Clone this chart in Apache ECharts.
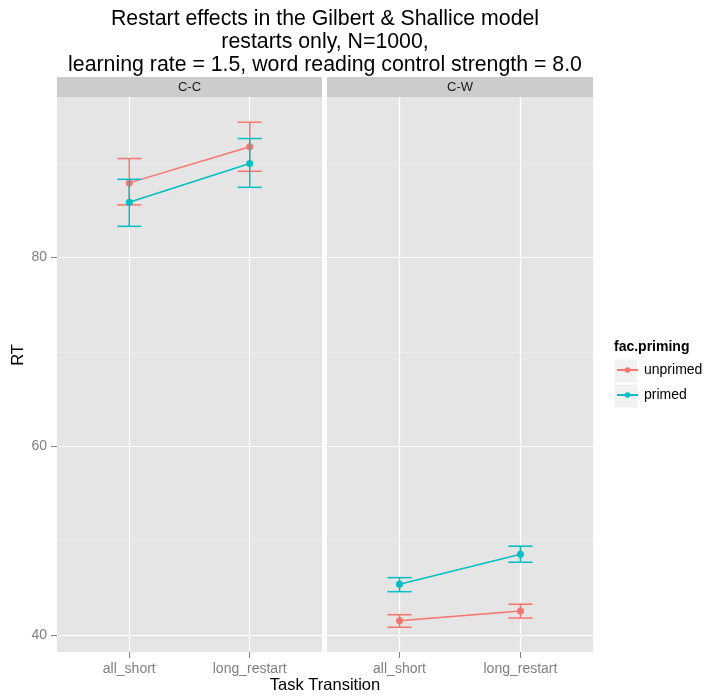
<!DOCTYPE html>
<html>
<head>
<meta charset="utf-8">
<script src="https://cdn.jsdelivr.net/npm/echarts@6/dist/echarts.min.js"></script>
<style>
  html, body { margin: 0; padding: 0; background: #ffffff; }
  #chart { width: 705px; height: 697px; }
</style>
</head>
<body>
<div id="chart"></div>
<script>
// Task transitions on the x axis, one panel per condition
const categories = ['all_short', 'long_restart'];
const facets = ['C-C', 'C-W'];
const primingLevels = ['unprimed', 'primed'];

// Mean RT and error-bar limits, per panel and priming level
const unprimedCC = [87.9, 91.72];
const unprimedCCLow = [85.57, 89.13];
const unprimedCCHigh = [90.48, 94.33];
const primedCC = [85.84, 89.95];
const primedCCLow = [83.30, 87.43];
const primedCCHigh = [88.28, 92.60];

const unprimedCW = [41.52, 42.55];
const unprimedCWLow = [40.82, 41.80];
const unprimedCWHigh = [42.15, 43.26];
const primedCW = [45.38, 48.56];
const primedCWLow = [44.59, 47.71];
const primedCWHigh = [46.08, 49.41];

// Axis ticks
const yMajorTicks = [40, 60, 80];
const yMinorTicks = [50, 70, 90];

const colors = { unprimed: '#F8766D', primed: '#00BFC4' };
const FONT = "'Liberation Sans', Arial, Helvetica, sans-serif";

const panelData = [
  { unprimed: [unprimedCC, unprimedCCLow, unprimedCCHigh], primed: [primedCC, primedCCLow, primedCCHigh] },
  { unprimed: [unprimedCW, unprimedCWLow, unprimedCWHigh], primed: [primedCW, primedCWLow, primedCWHigh] }
];

// Panel geometry
const panels = [
  { left: 57, width: 265 },
  { left: 327, width: 266 }
];
const panelTop = 97, panelHeight = 555;
const xPositions = categories.map((c, i) => i + 1);

const grids = panels.map(p => ({
  left: p.left, top: panelTop, width: p.width, height: panelHeight,
  show: true, backgroundColor: '#E5E5E5', borderWidth: 0, containLabel: false
}));

const xAxes = panels.map((p, i) => ({
  type: 'value', gridIndex: i, min: 0.4, max: 2.6,
  axisLine: { show: false },
  splitLine: { show: false },
  axisTick: { show: true, customValues: xPositions, length: 6, lineStyle: { color: '#7F7F7F', width: 1 } },
  axisLabel: {
    customValues: xPositions, color: '#7F7F7F', fontSize: 14, fontFamily: FONT, margin: 10,
    formatter: v => categories[Math.round(v) - 1] || ''
  }
}));

const yAxes = panels.map((p, i) => ({
  type: 'value', gridIndex: i, min: 38.2, max: 97.0,
  axisLine: { show: false },
  splitLine: { show: false },
  axisTick: { show: i === 0, customValues: yMajorTicks, length: 6, lineStyle: { color: '#7F7F7F', width: 1 } },
  axisLabel: {
    show: i === 0, customValues: yMajorTicks, color: '#7F7F7F', fontSize: 14, fontFamily: FONT, margin: 10
  }
}));

const series = [];

// Background grid lines per panel
panels.forEach((p, i) => {
  series.push({
    type: 'line', xAxisIndex: i, yAxisIndex: i, data: [], silent: true, z: 1,
    markLine: {
      silent: true, symbol: 'none', animation: false, z: 1,
      label: { show: false },
      emphasis: { disabled: true },
      data: [
        ...yMinorTicks.map(v => ({ yAxis: v, lineStyle: { color: '#F2F2F2', width: 0.6, type: 'solid' } })),
        ...yMajorTicks.map(v => ({ yAxis: v, lineStyle: { color: '#FFFFFF', width: 1.2, type: 'solid' } })),
        ...xPositions.map(v => ({ xAxis: v, lineStyle: { color: '#FFFFFF', width: 1.2, type: 'solid' } }))
      ]
    }
  });
});

function errorBarRenderer(color) {
  return function (params, api) {
    const x = api.value(0);
    const lo = api.coord([x, api.value(1)]);
    const hi = api.coord([x, api.value(2)]);
    const half = api.size([0.1, 0])[0];
    const style = { stroke: color, lineWidth: 1.5, fill: null };
    return {
      type: 'group',
      children: [
        { type: 'line', shape: { x1: lo[0], y1: lo[1], x2: hi[0], y2: hi[1] }, style },
        { type: 'line', shape: { x1: hi[0] - half, y1: hi[1], x2: hi[0] + half, y2: hi[1] }, style },
        { type: 'line', shape: { x1: lo[0] - half, y1: lo[1], x2: lo[0] + half, y2: lo[1] }, style }
      ]
    };
  };
}

panels.forEach((p, i) => {
  primingLevels.forEach((lvl, k) => {
    const [mean, low, high] = panelData[i][lvl];
    series.push({
      type: 'custom', name: lvl + ' ' + facets[i] + ' error', xAxisIndex: i, yAxisIndex: i,
      z: 10 + k * 2, silent: true, animation: false,
      renderItem: errorBarRenderer(colors[lvl]),
      encode: { x: 0, y: [1, 2] },
      data: xPositions.map((x, j) => [x, low[j], high[j]])
    });
    series.push({
      type: 'line', name: lvl, xAxisIndex: i, yAxisIndex: i,
      z: 11 + k * 2, silent: true, animation: false,
      symbol: 'circle', symbolSize: 7,
      lineStyle: { color: colors[lvl], width: 1.5 },
      itemStyle: { color: colors[lvl] },
      data: xPositions.map((x, j) => [x, mean[j]])
    });
  });
});

const legendBase = {
  orient: 'vertical', left: 616, itemWidth: 21, itemHeight: 7, itemGap: 0, padding: 0,
  textStyle: { fontSize: 14, fontFamily: FONT, color: '#000000', padding: [0, 0, 0, 1] },
  selectedMode: false
};

const option = {
  animation: false,
  backgroundColor: '#FFFFFF',
  grid: grids,
  xAxis: xAxes,
  yAxis: yAxes,
  legend: [
    Object.assign({}, legendBase, { top: 363, data: ['unprimed'] }),
    Object.assign({}, legendBase, { top: 388, data: ['primed'] })
  ],
  graphic: [
    // facet strips
    ...panels.map((p, i) => ({
      type: 'group', left: p.left, top: 77, z: 1,
      children: [
        { type: 'rect', shape: { x: 0, y: 0, width: p.width, height: 20 }, style: { fill: '#CCCCCC' } },
        { type: 'text', x: p.width / 2, y: 10, style: { text: facets[i], font: '13px ' + FONT, fill: '#1A1A1A', align: 'center', verticalAlign: 'middle' } }
      ]
    })),
    // title, centred over the panels
    {
      type: 'text', x: 325, y: 8, z: 10,
      style: {
        text: 'Restart effects in the Gilbert & Shallice model\nrestarts only, N=1000,\nlearning rate = 1.5, word reading control strength = 8.0',
        font: '21.3px ' + FONT, fill: '#000000', align: 'center', verticalAlign: 'top', lineHeight: 23
      }
    },
    // axis titles
    { type: 'text', x: 325, y: 685, style: { text: 'Task Transition', font: '16.5px ' + FONT, fill: '#000000', align: 'center', verticalAlign: 'middle' } },
    { type: 'text', x: 18, y: 355, rotation: Math.PI / 2, style: { text: 'RT', font: '16.5px ' + FONT, fill: '#000000', align: 'center', verticalAlign: 'middle' } },
    // legend title and key backgrounds
    { type: 'text', x: 614, y: 347, style: { text: 'fac.priming', font: 'bold 14px ' + FONT, fill: '#000000', align: 'left', verticalAlign: 'middle' } },
    { type: 'rect', shape: { x: 614, y: 359, width: 24, height: 24 }, style: { fill: '#F2F2F2', stroke: '#FFFFFF', lineWidth: 1 }, z: 0 },
    { type: 'rect', shape: { x: 614, y: 384, width: 24, height: 24 }, style: { fill: '#F2F2F2', stroke: '#FFFFFF', lineWidth: 1 }, z: 0 }
  ],
  series: series
};

const chart = echarts.init(document.getElementById('chart'), null, { renderer: 'canvas' });
chart.setOption(option);
</script>
</body>
</html>
